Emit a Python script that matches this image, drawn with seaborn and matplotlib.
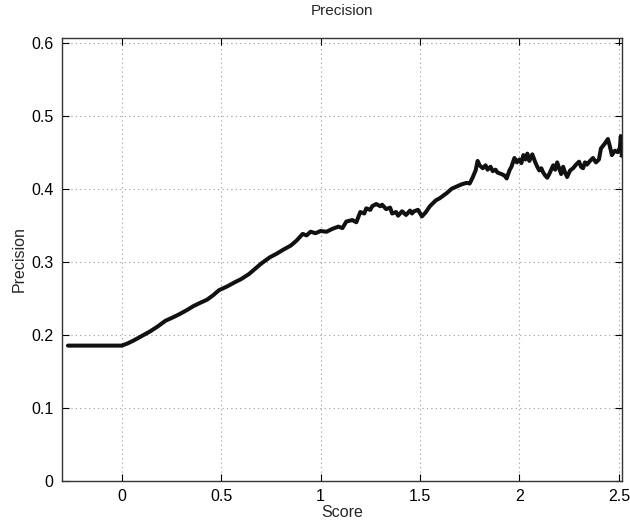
import matplotlib
matplotlib.use("Agg")
import matplotlib.pyplot as plt
import pandas as pd
import seaborn as sns

# values
score = [
    -0.27, -0.20, -0.10, 0.0, 0.03, 0.06, 0.10, 0.14, 0.18, 0.22, 0.26, 0.29,
    0.33, 0.36, 0.39, 0.43, 0.46, 0.49, 0.53, 0.57, 0.60, 0.64, 0.67, 0.70,
    0.745, 0.78, 0.81, 0.85, 0.88, 0.91, 0.93, 0.95, 0.975, 1.0, 1.03, 1.06,
    1.09, 1.11, 1.13, 1.16, 1.18, 1.20, 1.22, 1.23, 1.25, 1.26, 1.28, 1.30,
    1.31, 1.33, 1.35, 1.36, 1.38, 1.39, 1.41, 1.43, 1.45, 1.46, 1.47, 1.49,
    1.51, 1.53, 1.55, 1.565, 1.58, 1.60, 1.62, 1.635, 1.66, 1.685, 1.71,
    1.735, 1.75, 1.766, 1.78, 1.79, 1.80, 1.816, 1.83, 1.84, 1.855, 1.866,
    1.88, 1.89, 1.91, 1.925, 1.936, 1.95, 1.96, 1.975, 1.987, 2.0, 2.01,
    2.02, 2.03, 2.04, 2.05, 2.065, 2.08, 2.09, 2.10, 2.11, 2.12, 2.13, 2.14,
    2.15, 2.16, 2.17, 2.18, 2.19, 2.20, 2.21, 2.22, 2.23, 2.24, 2.255, 2.27,
    2.285, 2.30, 2.31, 2.32, 2.33, 2.34, 2.355, 2.37, 2.385, 2.40, 2.41,
    2.43, 2.445, 2.455, 2.465, 2.48, 2.495, 2.505, 2.51, 2.515,
]
precision = [
    0.185, 0.185, 0.185, 0.185, 0.188, 0.192, 0.198, 0.204, 0.211, 0.219,
    0.224, 0.228, 0.234, 0.239, 0.243, 0.248, 0.254, 0.261, 0.266, 0.272,
    0.276, 0.283, 0.290, 0.297, 0.306, 0.311, 0.316, 0.322, 0.329, 0.338,
    0.336, 0.341, 0.339, 0.342, 0.341, 0.345, 0.348, 0.346, 0.355, 0.357,
    0.354, 0.368, 0.366, 0.373, 0.371, 0.376, 0.379, 0.376, 0.378, 0.372,
    0.374, 0.366, 0.368, 0.363, 0.369, 0.364, 0.370, 0.366, 0.369, 0.371,
    0.362, 0.368, 0.376, 0.380, 0.384, 0.387, 0.391, 0.394, 0.400, 0.403,
    0.406, 0.408, 0.407, 0.416, 0.425, 0.438, 0.432, 0.428, 0.432, 0.426,
    0.430, 0.424, 0.426, 0.422, 0.420, 0.418, 0.414, 0.425, 0.430, 0.442,
    0.436, 0.440, 0.435, 0.446, 0.440, 0.448, 0.438, 0.447, 0.436, 0.430,
    0.425, 0.428, 0.422, 0.418, 0.415, 0.420, 0.426, 0.432, 0.426, 0.436,
    0.428, 0.420, 0.430, 0.422, 0.416, 0.425, 0.428, 0.433, 0.437, 0.430,
    0.428, 0.436, 0.433, 0.438, 0.442, 0.436, 0.440, 0.455, 0.462, 0.468,
    0.458, 0.446, 0.452, 0.450, 0.456, 0.472, 0.445,
]
x_ticks = [0, 0.5, 1, 1.5, 2, 2.5]
x_tick_labels = ["0", "0.5", "1", "1.5", "2", "2.5"]
y_ticks = [0, 0.1, 0.2, 0.3, 0.4, 0.5, 0.6]
y_tick_labels = ["0", "0.1", "0.2", "0.3", "0.4", "0.5", "0.6"]

df = pd.DataFrame({"Score": score, "Precision": precision})

sns.set_style("white")
plt.rcParams["font.family"] = ["Liberation Sans", "DejaVu Sans"]

fig = plt.figure(figsize=(6.3, 5.21), dpi=100)
ax = fig.add_axes([0.0984, 0.0774, 0.8886, 0.8491])

sns.lineplot(data=df, x="Score", y="Precision", color="#111111", linewidth=2.9, ax=ax)

ax.set_xlim(-0.3, 2.515)
ax.set_ylim(0, 0.606)
ax.set_xticks(x_ticks)
ax.set_xticklabels(x_tick_labels)
ax.set_yticks(y_ticks)
ax.set_yticklabels(y_tick_labels)
ax.grid(True, linestyle=(0, (1, 3)), color="#999999", linewidth=0.8)
ax.tick_params(direction="in", length=5, width=0.8, labelsize=11.5, colors="black",
               bottom=True, left=True, top=True, right=True, pad=6)
for s in ax.spines.values():
    s.set_color("#333333")
    s.set_linewidth(1.0)

ax.set_title("Precision", fontsize=11, pad=17)
ax.set_xlabel("Score", fontsize=11.5, labelpad=1)
ax.set_ylabel("Precision", fontsize=11.5, labelpad=3)

plt.savefig("out.png", dpi=100)
